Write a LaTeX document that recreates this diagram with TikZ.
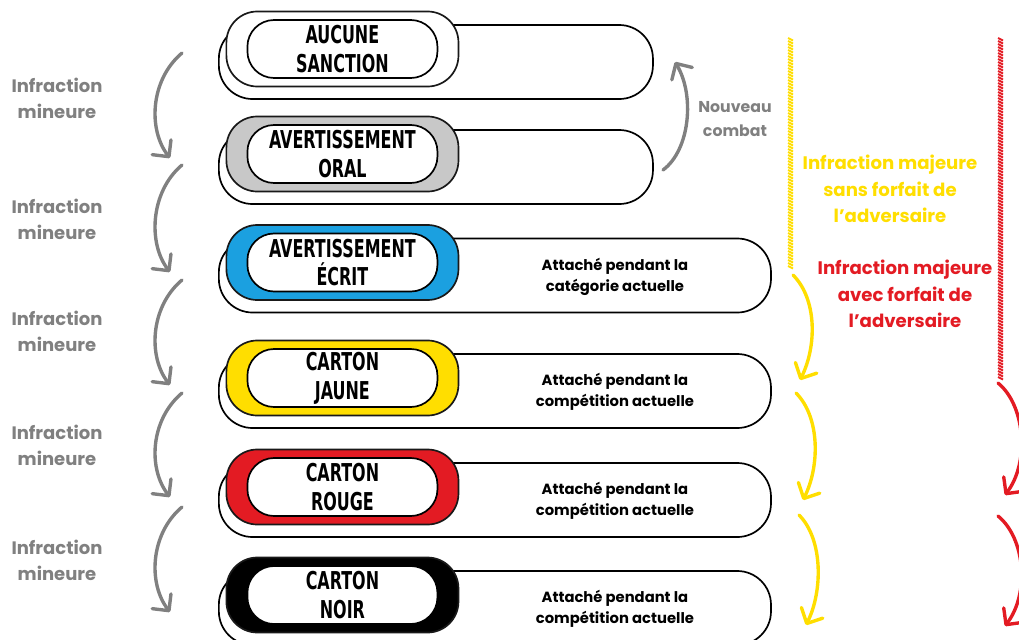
\documentclass[tikz,border=0pt]{standalone}
\usepackage{fontspec}
\setmainfont{Poppins}
\newfontfamily\capfont{DejaVu Sans Condensed}[FakeStretch=0.72]
\usetikzlibrary{arrows.meta}
\definecolor{gris}{RGB}{128,128,128}
\definecolor{griscarte}{RGB}{200,200,200}
\definecolor{bleu}{RGB}{27,160,224}
\definecolor{jaune}{RGB}{255,222,0}
\definecolor{rouge}{RGB}{227,27,35}
\tikzset{
  barre/.style={draw, line width=1.2pt, fill=white, rounded corners=24pt, minimum height=1.85cm},
  carte/.style={draw=black!90, line width=1.2pt, rounded corners=22pt, minimum width=5.8cm, minimum height=1.875cm},
  etiquette/.style={draw, line width=1.2pt, fill=white, rounded corners=19pt, minimum width=4.75cm, minimum height=1.45cm, inner sep=1pt, align=center, font=\capfont\bfseries\fontsize{17.5}{20.5}\selectfont},
  note/.style={align=center, font=\bfseries\fontsize{10.5}{15}\selectfont},
  mineure/.style={align=center, text=gris, font=\bfseries\fontsize{12.8}{18.4}\selectfont},
  majeure/.style={align=center, font=\bfseries\fontsize{12.9}{19}\selectfont},
  fleche/.style={line width=2.4pt, line cap=round, -{Straight Barb[length=8.5pt,width=17pt,round]}},
  hachure/.style={line width=1.4pt},
}
\begin{document}
\begin{tikzpicture}[x=0.025cm, y=-0.025cm]
\clip (0,0) rectangle (1019,639);

% niveaux de sanction
\foreach \n/\y/\lg/\teinte/\titre in {1/62/10.85/white/{AUCUNE\\SANCTION}, 2/167/10.85/griscarte/{AVERTISSEMENT\\ORAL}, 3/275.5/13.8/bleu/{AVERTISSEMENT\\ÉCRIT}, 4/391/13.8/jaune/{CARTON\\JAUNE}, 5/500/13.8/rouge/{CARTON\\ROUGE}, 6/608/13.8/black/{CARTON\\NOIR}} {
  \node[barre, minimum width=\lg cm, anchor=west] (barre\n) at (218,\y) {};
  \node[carte, fill=\teinte] (carte\n) at ([xshift=3.11cm, yshift=0.325cm]barre\n.west) {};
  \node[etiquette] (titre\n) at (carte\n.center) {\titre};
}
\foreach \n/\texte in {3/{Attaché pendant la\\catégorie actuelle}, 4/{Attaché pendant la\\compétition actuelle}, 5/{Attaché pendant la\\compétition actuelle}, 6/{Attaché pendant la\\compétition actuelle}}
  \node[note] (note\n) at ([xshift=3cm, yshift=-0.03cm]barre\n.center) {\texte};

% infractions mineures
\foreach \i/\a/\b/\t in {1/53/158/98, 2/165/272/219, 3/280/385/331, 4/393/497/445, 5/507/612/560} {
  \node[mineure] (mineure\i) at (57,\t) {Infraction\\mineure};
  \coordinate (g\i a) at (182,\a);
  \coordinate (g\i b) at (170,\b);
  \draw[fleche, gris] (g\i a) .. controls +(-32,27) and +(-22,-28) .. (g\i b);
}

% nouveau combat
\node[mineure, font=\bfseries\fontsize{11.2}{17}\selectfont] (combat) at (735,119) {Nouveau\\combat};
\coordinate (retour a) at (663,170);
\coordinate (retour b) at (675,62);
\draw[fleche, gris] (retour a) .. controls +(27,-20) and +(20,33) .. (retour b);

% infractions majeures
\node[majeure, text=jaune] (sansforfait) at (890,189) {Infraction majeure\\sans forfait de\\l’adversaire};
\node[majeure, text=rouge] (avecforfait) at (905,294) {Infraction majeure\\avec forfait de\\l’adversaire};
\foreach \y in {38,41,...,268} \draw[jaune, hachure] (788,\y) -- (793,\y+2.5);
\foreach \y in {38,41,...,377} \draw[rouge, hachure] (998,\y) -- (1003,\y+2.5);

\foreach \i/\a/\b in {1/275/380, 2/393/500, 3/515/625} {
  \coordinate (j\i a) at (790+3*\i,\a);
  \coordinate (j\i b) at (797+3*\i,\b);
  \draw[fleche, jaune] (j\i a) .. controls +(24,24) and +(17,-34) .. (j\i b);
}
\foreach \i/\a/\b in {1/383/495, 2/516/626} {
  \coordinate (r\i a) at (998,\a);
  \coordinate (r\i b) at (1005,\b);
  \draw[fleche, rouge] (r\i a) .. controls +(27,22) and +(25,-33) .. (r\i b);
}
\end{tikzpicture}
\end{document}
